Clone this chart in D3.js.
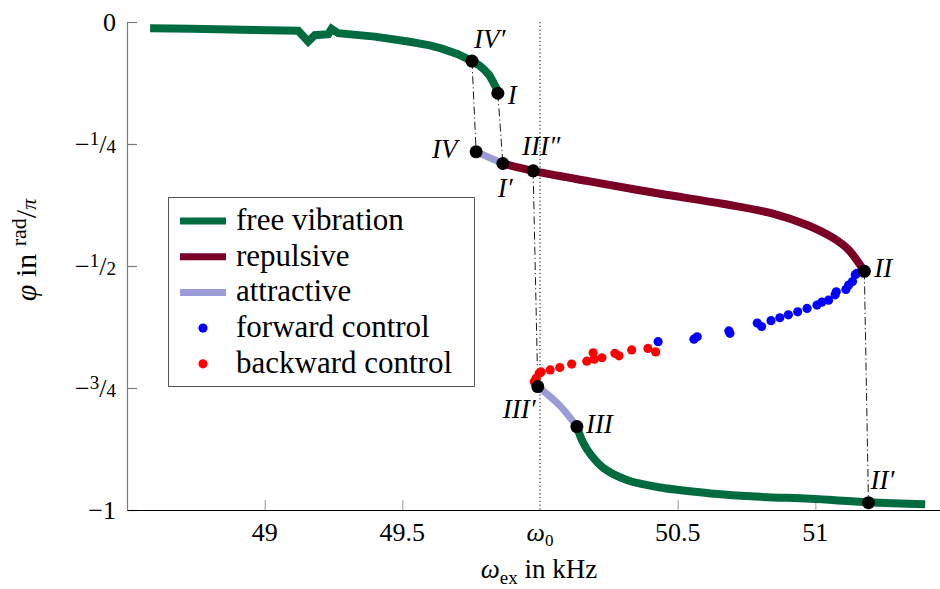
<!DOCTYPE html>
<html>
<head>
<meta charset="utf-8">
<script src="https://cdn.jsdelivr.net/npm/d3@7"></script>
<style>
body { margin: 0; background: #fff; }
text { font-family: "Liberation Serif"; }
</style>
</head>
<body>
<div id="chart"></div>
<script>
// phase in units of pi, frequency in kHz
var freeUpper = [[48.584, -0.013], [48.736, -0.014], [48.917, -0.016], [49.122, -0.018], [49.158, -0.040],
	[49.182, -0.027], [49.231, -0.025], [49.243, -0.014], [49.267, -0.023], [49.400, -0.030], [49.521, -0.040],
	[49.600, -0.048], [49.641, -0.054], [49.702, -0.066], [49.753, -0.080], [49.780, -0.089], [49.798, -0.098],
	[49.816, -0.109], [49.829, -0.122], [49.840, -0.134], [49.847, -0.146]];
var freeLower = [[50.134, -0.829], [50.155, -0.860], [50.185, -0.887], [50.233, -0.915], [50.318, -0.939],
	[50.438, -0.954], [50.620, -0.966], [50.801, -0.973], [50.982, -0.977], [51.193, -0.984], [51.399, -0.988]];
var repulsive = [[49.865, -0.290], [49.974, -0.305], [50.185, -0.327], [50.426, -0.351], [50.668, -0.373],
	[50.849, -0.393], [50.970, -0.416], [51.066, -0.443], [51.121, -0.467], [51.178, -0.511]];
var attractiveUpper = [[49.768, -0.266], [49.865, -0.290]];
var attractiveLower = [[49.992, -0.747], [50.072, -0.786], [50.134, -0.829]];

var forward = [[50.429, -0.655], [50.559, -0.650], [50.571, -0.645], [50.686, -0.633], [50.690, -0.638],
	[50.789, -0.617], [50.805, -0.624], [50.839, -0.612], [50.871, -0.606], [50.902, -0.600], [50.936, -0.594],
	[50.970, -0.587], [51.006, -0.580], [51.024, -0.574], [51.048, -0.570], [51.072, -0.559], [51.076, -0.553],
	[51.111, -0.548], [51.121, -0.539], [51.135, -0.532], [51.145, -0.518], [51.151, -0.515]];
var backward = [[49.979, -0.737], [49.986, -0.730], [49.997, -0.720], [50.004, -0.717], [50.037, -0.713],
	[50.072, -0.708], [50.115, -0.701], [50.170, -0.695], [50.193, -0.678], [50.197, -0.691], [50.225, -0.688],
	[50.272, -0.679], [50.287, -0.684], [50.333, -0.672], [50.392, -0.669], [50.420, -0.676]];

var pointNames = ["IV′", "I", "IV", "I′", "III″", "II", "II′", "III′", "III"];
var pointX = [49.753, 49.847, 49.768, 49.865, 49.975, 51.178, 51.193, 49.992, 50.134];
var pointY = [-0.080, -0.146, -0.266, -0.290, -0.305, -0.511, -0.985, -0.747, -0.829];
var jumps = [["IV′", "IV"], ["I", "I′"], ["III″", "III′"], ["II", "II′"]];

var xTicks = [49, 49.5, 50, 50.5, 51];
var xTickLabels = ["49", "49.5", "ω", "50.5", "51"];
var yTicks = [0, -0.25, -0.5, -0.75, -1];
var yTickNum = ["", "1", "1", "3", ""];
var yTickDen = ["", "4", "2", "4", ""];

var seriesNames = ["free vibration", "repulsive", "attractive", "forward control", "backward control"];
var colors = {free: "#006b3f", rep: "#7a0026", att: "#9b9bd7", fwd: "#0000ff", bwd: "#ff0000"};

var svgWidth = 940;
var svgHeight = 589;

var svg = d3.select("#chart")
	.append("svg")
	.attr("width", svgWidth)
	.attr("height", svgHeight);

var x = d3.scaleLinear().domain([48.5, 51.5]).range([127, 953]);
var y = d3.scaleLinear().domain([-1, 0]).range([510, 22]);

// axes, ticks inward
var yAxis = svg.append("g")
	.attr("transform", "translate(127,0)")
	.call(d3.axisLeft(y).tickValues(yTicks).tickSizeInner(-10).tickSizeOuter(0).tickFormat(""));
yAxis.selectAll("text").remove();
yAxis.selectAll("path, line").attr("stroke", "#7a7a7a").attr("stroke-width", 1.2);

var xAxis = svg.append("g")
	.attr("transform", "translate(0,510)")
	.call(d3.axisBottom(x).tickValues(xTicks.filter(d => d != 50)).tickSizeInner(-10).tickSizeOuter(0).tickFormat(""));
xAxis.selectAll("text").remove();
xAxis.selectAll("line").attr("stroke", "#9a9a9a");
xAxis.select("path").attr("stroke", "#000").attr("stroke-width", 1.2);

function addText(sel, size) {
	return sel.append("text")
		.style("font-size", size + "px")
		.attr("fill", "#000");
}

// y tick labels as nicefrac
yTicks.forEach(function(v, i) {
	var t = addText(svg, 26)
		.attr("x", 116)
		.attr("y", y(v) + 9)
		.attr("text-anchor", "end");
	if (v == 0) { t.text("0"); return; }
	t.append("tspan").text("−");
	if (v == -1) { t.append("tspan").text("1"); return; }
	t.append("tspan").attr("dy", -8).style("font-size", "19px").text(yTickNum[i]);
	t.append("tspan").attr("dy", 8).text("/");
	t.append("tspan").style("font-size", "19px").text(yTickDen[i]);
});

xTicks.forEach(function(v, i) {
	var t = addText(svg, 26)
		.attr("x", x(v))
		.attr("y", 541)
		.attr("text-anchor", "middle");
	if (v == 50) {
		t.append("tspan").style("font-style", "italic").text("ω");
		t.append("tspan").attr("dy", 5).style("font-size", "17px").text("0");
	} else {
		t.text(xTickLabels[i]);
	}
});

// axis titles
var xTitle = addText(svg, 27)
	.attr("x", 539)
	.attr("y", 578)
	.attr("text-anchor", "middle");
xTitle.append("tspan").style("font-style", "italic").text("ω");
xTitle.append("tspan").attr("dy", 6).style("font-size", "19px").text("ex");
xTitle.append("tspan").attr("dy", -6).text(" in kHz");

var yTitle = addText(svg, 30)
	.attr("transform", "translate(36,250) rotate(-90)")
	.attr("text-anchor", "middle");
yTitle.append("tspan").style("font-style", "italic").text("φ");
yTitle.append("tspan").text(" in ");
yTitle.append("tspan").attr("dy", -10).style("font-size", "22px").text("rad");
yTitle.append("tspan").attr("dy", 10).text("/");
yTitle.append("tspan").style("font-size", "22px").style("font-style", "italic").text("π");

// reference line at omega_0
svg.append("line")
	.attr("x1", x(50)).attr("x2", x(50))
	.attr("y1", y(0)).attr("y2", y(-1))
	.attr("stroke", "#000")
	.attr("stroke-width", 1)
	.attr("stroke-dasharray", "1.2,2.6");

function pt(name) {
	var i = pointNames.indexOf(name);
	return [pointX[i], pointY[i]];
}

// jump lines
jumps.forEach(function(j) {
	var a = pt(j[0]), b = pt(j[1]);
	svg.append("line")
		.attr("x1", x(a[0])).attr("y1", y(a[1]))
		.attr("x2", x(b[0])).attr("y2", y(b[1]))
		.attr("stroke", "#000")
		.attr("stroke-width", 0.9)
		.attr("stroke-dasharray", "8,3,1.2,3");
});

var smooth = d3.line()
	.x(d => x(d[0]))
	.y(d => y(d[1]))
	.curve(d3.curveCatmullRom.alpha(0.5));
var straight = d3.line()
	.x(d => x(d[0]))
	.y(d => y(d[1]));

function drawCurve(data, color, w, gen) {
	svg.append("path")
		.datum(data)
		.attr("d", gen)
		.attr("fill", "none")
		.attr("stroke", color)
		.attr("stroke-width", w)
		.attr("stroke-linejoin", "miter");
}

drawCurve(freeUpper, colors.free, 8, straight);
drawCurve(freeLower, colors.free, 8, smooth);
drawCurve(repulsive, colors.rep, 8, smooth);
drawCurve(attractiveUpper, colors.att, 7, smooth);
drawCurve(attractiveLower, colors.att, 7, smooth);

svg.selectAll("circle.fwd")
	.data(forward)
	.enter()
	.append("circle")
	.attr("class", "fwd")
	.attr("cx", d => x(d[0]))
	.attr("cy", d => y(d[1]))
	.attr("r", 4.6)
	.attr("fill", colors.fwd);

svg.selectAll("circle.bwd")
	.data(backward)
	.enter()
	.append("circle")
	.attr("class", "bwd")
	.attr("cx", d => x(d[0]))
	.attr("cy", d => y(d[1]))
	.attr("r", 4.6)
	.attr("fill", colors.bwd);

// special points
svg.selectAll("circle.pt")
	.data(pointNames)
	.enter()
	.append("circle")
	.attr("class", "pt")
	.attr("cx", (d, i) => x(pointX[i]))
	.attr("cy", (d, i) => y(pointY[i]))
	.attr("r", 6.5)
	.attr("fill", "#000");

// label offsets from the point
var labelOffset = {
	"IV′": [2, -13], "I": [10, 11], "IV": [-44, 6], "I′": [-5, 33], "III″": [-11, -16],
	"II": [10, 6], "II′": [2, -14], "III′": [-35, 31], "III": [9, 6]
};
pointNames.forEach(function(n, i) {
	addText(svg, 27)
		.attr("x", x(pointX[i]) + labelOffset[n][0])
		.attr("y", y(pointY[i]) + labelOffset[n][1])
		.style("font-style", "italic")
		.text(n);
});

// legend
var legend = svg.append("g");
legend.append("rect")
	.attr("x", 168.5).attr("y", 197.5)
	.attr("width", 306).attr("height", 189)
	.attr("fill", "#fff")
	.attr("stroke", "#555")
	.attr("stroke-width", 1);

var legendColors = [colors.free, colors.rep, colors.att, colors.fwd, colors.bwd];
seriesNames.forEach(function(name, i) {
	var base = 230 + i * 35.7;
	if (i < 3) {
		legend.append("line")
			.attr("x1", 180).attr("x2", 226)
			.attr("y1", base - 9).attr("y2", base - 9)
			.attr("stroke", legendColors[i])
			.attr("stroke-width", 7);
	} else {
		legend.append("circle")
			.attr("cx", 203).attr("cy", base - 9)
			.attr("r", 4.6)
			.attr("fill", legendColors[i]);
	}
	addText(legend, 31)
		.attr("x", 236)
		.attr("y", base)
		.text(name);
});
</script>
</body>
</html>
